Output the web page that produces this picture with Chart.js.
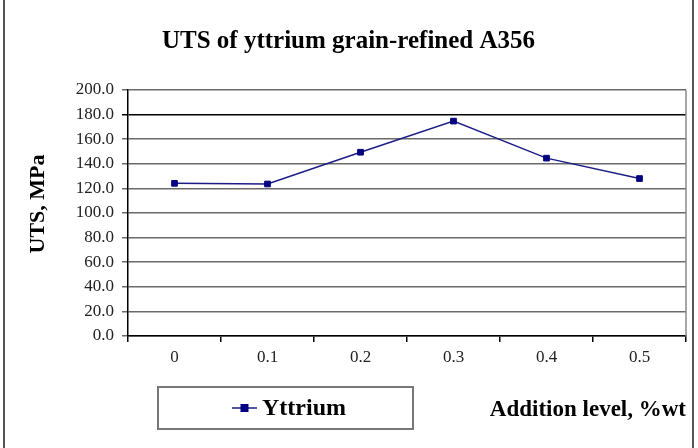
<!DOCTYPE html>
<html>
<head>
<meta charset="utf-8">
<script src="https://cdn.jsdelivr.net/npm/chart.js@4.4.0/dist/chart.umd.min.js"></script>
<style>
  html, body { margin: 0; padding: 0; background: #fff; }
</style>
</head>
<body>
<canvas id="chart" width="698" height="448"></canvas>
<script>
// Data
const categories = ['0', '0.1', '0.2', '0.3', '0.4', '0.5'];
const utsValues = [124.1, 123.6, 149.4, 174.7, 144.6, 128.0];
const seriesName = 'Yttrium';
const yAxisTitle = 'UTS, MPa';
const yMin = 0;
const yMax = 200;
const yStep = 20;

const SERIF = '"Liberation Serif", "Times New Roman", serif';
const NAVY = '#000080';

// Frame, right edge of the plot, y title and the boxed legend
const extrasPlugin = {
    id: 'extras',
    afterDraw(chart) {
        const ctx = chart.ctx;
        const a = chart.chartArea;
        ctx.save();

        // plot right edge
        ctx.strokeStyle = '#8a8a8a';
        ctx.lineWidth = 1.5;
        ctx.beginPath();
        ctx.moveTo(a.right, a.top);
        ctx.lineTo(a.right, a.bottom);
        ctx.stroke();

        // outer frame (left / right)
        ctx.strokeStyle = '#555';
        ctx.lineWidth = 2;
        ctx.beginPath();
        ctx.moveTo(4, 0); ctx.lineTo(4, 448);
        ctx.moveTo(693, 0); ctx.lineTo(693, 448);
        ctx.stroke();

        // y axis title (sits a little above the axis middle)
        ctx.save();
        ctx.translate(38, 204);
        ctx.rotate(-Math.PI / 2);
        ctx.fillStyle = '#000';
        ctx.font = 'bold 22px ' + SERIF;
        ctx.textAlign = 'center';
        ctx.textBaseline = 'middle';
        ctx.fillText(yAxisTitle, 0, 0);
        ctx.restore();

        // legend box
        ctx.strokeStyle = '#777';
        ctx.lineWidth = 2;
        ctx.strokeRect(158, 387, 255, 42);

        const ds = chart.data.datasets[0];
        const ly = 408;
        ctx.strokeStyle = ds.borderColor;
        ctx.lineWidth = 1.5;
        ctx.beginPath();
        ctx.moveTo(232, ly); ctx.lineTo(257, ly);
        ctx.stroke();
        ctx.fillStyle = ds.pointBackgroundColor;
        ctx.fillRect(240.5, ly - 4, 8, 8);

        ctx.fillStyle = '#000';
        ctx.font = 'bold 24px ' + SERIF;
        ctx.textAlign = 'left';
        ctx.textBaseline = 'middle';
        ctx.fillText(ds.label, 262, ly + 1);
        ctx.restore();
    }
};

const ctx = document.getElementById('chart').getContext('2d');

new Chart(ctx, {
    type: 'line',
    data: {
        labels: categories,
        datasets: [{
            label: seriesName,
            data: utsValues,
            borderColor: '#1c1c86',
            borderWidth: 1.5,
            pointStyle: 'rect',
            pointRadius: 4,
            pointBackgroundColor: NAVY,
            pointBorderColor: NAVY,
            pointBorderWidth: 1,
            tension: 0
        }]
    },
    options: {
        responsive: false,
        animation: false,
        layout: { padding: { left: 11, right: 12, top: 0, bottom: 0 } },
        plugins: {
            legend: { display: false },
            tooltip: { enabled: false },
            title: {
                display: true,
                text: 'UTS of yttrium grain-refined A356',
                color: '#000',
                font: { family: SERIF, size: 25, weight: 'bold' },
                padding: { top: 27, bottom: 33 }
            }
        },
        scales: {
            x: {
                offset: true,
                grid: {
                    offset: true,
                    drawOnChartArea: false,
                    drawTicks: true,
                    tickLength: 6,
                    color: '#000',
                    lineWidth: 1.5
                },
                border: { color: '#000', width: 1.5 },
                ticks: {
                    color: '#222',
                    padding: 5,
                    font: { family: SERIF, size: 17 },
                    maxRotation: 0
                },
                title: {
                    display: true,
                    text: 'Addition level, %wt',
                    align: 'end',
                    color: '#000',
                    font: { family: SERIF, size: 23, weight: 'bold' },
                    padding: { top: 0, bottom: 24 }
                },
                afterFit(scale) { scale.height = 112; }
            },
            y: {
                min: yMin,
                max: yMax,
                grid: {
                    color: c => (c.tick && c.tick.value === 180) ? '#000' : '#6a6a6a',
                    lineWidth: 1.5,
                    tickLength: 6
                },
                border: { color: '#000', width: 1.5 },
                ticks: {
                    stepSize: yStep,
                    color: '#222',
                    padding: 8,
                    font: { family: SERIF, size: 17 },
                    callback: v => v.toFixed(1)
                },
                afterFit(scale) { scale.width = 117; }
            }
        }
    },
    plugins: [extrasPlugin]
});
</script>
</body>
</html>
